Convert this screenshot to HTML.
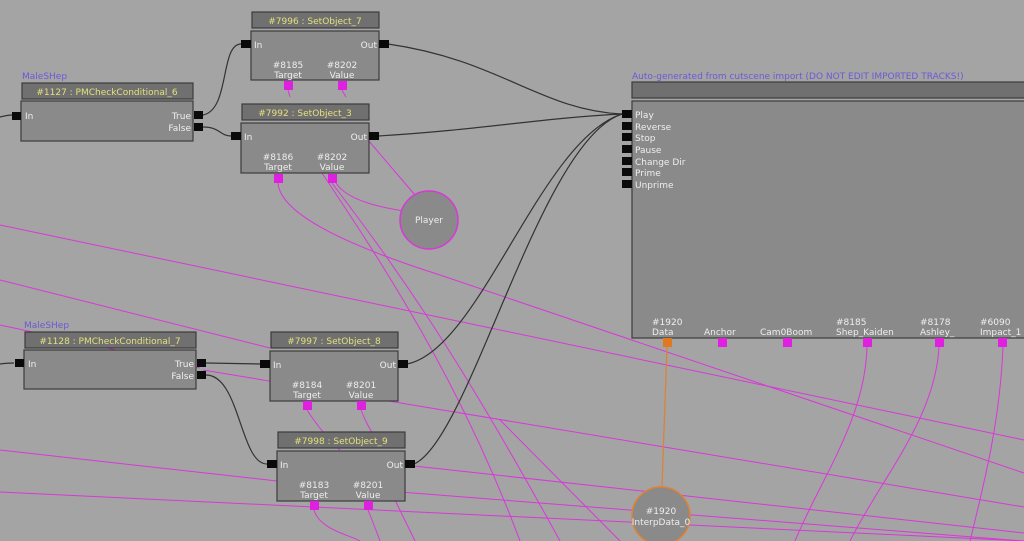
<!DOCTYPE html>
<html><head><meta charset="utf-8"><style>
html,body{margin:0;padding:0;background:#a4a4a4;width:1024px;height:541px;overflow:hidden}
svg{display:block}
text{font-family:"DejaVu Sans","Liberation Sans",sans-serif;font-size:9px}
.t{fill:#e4e07a;text-anchor:middle}
.w{fill:#eeeeee}
.c{text-anchor:middle}
.r{text-anchor:end}
.lbl{fill:#6a5ad8}
.ti{fill:#707070;stroke:#3c3c3c;stroke-width:1.2}
.bd{fill:#8a8a8a;stroke:#3c3c3c;stroke-width:1.2}
.p{fill:#0a0a0a}
.v{fill:#e020e0}
.pk{stroke:#d838d8;fill:none;stroke-width:1}
.bk{stroke:#333;fill:none;stroke-width:1.2}
</style></head><body>
<svg width="1024" height="541" viewBox="0 0 1024 541">
<!-- pink long lines -->
<g class="pk">
<path d="M0,225 L1024,440"/>
<path d="M0,280 L270,348"/>
<path d="M0,325 L200,368"/>
<path d="M0,450 L277,481"/>
<path d="M0,492 L1024,541"/>
<path d="M203,370 L1024,507"/>
<path d="M405,465 L1024,533"/>
<path d="M400,492 L1024,541"/>
<path d="M278,183 C280,210 330,240 440,275 L1024,473"/>
<path d="M332,183 C390,260 450,340 560,541"/>
<path d="M320,170 C380,260 460,380 520,541"/>
<path d="M336,183 C350,205 400,210 410,212"/>
<path d="M368,140 L415,195"/>
<path d="M288,90 L290,97"/>
<path d="M342,90 L346,97"/>
<path d="M867,347 C865,420 820,480 795,541"/>
<path d="M939,347 C935,420 880,480 850,541"/>
<path d="M1003,347 C1000,420 985,480 970,541"/>
<path d="M307,410 C320,430 330,440 340,450"/>
<path d="M361,410 C365,420 370,430 372,432"/>
<path d="M314,510 C320,530 350,535 360,541"/>
<path d="M368,510 C372,520 378,535 380,541"/>
<path d="M395,500 L415,541"/>
<path d="M500,420 L620,541"/>
</g>
<!-- orange -->
<path d="M667,347 L662,486" stroke="#e08030" fill="none" stroke-width="1.2"/>
<!-- black links -->
<g class="bk">
<path d="M0,117 C8,115 10,115 12,115"/>
<path d="M0,364 C8,363 10,363 14,363"/>
<path d="M203,115 C230,110 220,44 241,44"/>
<path d="M203,127 C220,127 220,136 231,136"/>
<path d="M206,363 L260,364"/>
<path d="M206,375 C240,375 240,464 267,464"/>
<path d="M388,44 C500,60 540,110 622,114"/>
<path d="M378,136 C480,130 540,118 622,114"/>
<path d="M407,364 C480,350 540,140 622,114"/>
<path d="M414,464 C470,440 540,140 622,114"/>
</g>
<!-- circles -->
<circle cx="429" cy="220" r="29" fill="#8a8a8a" stroke="#d838d8" stroke-width="1.5"/>
<text x="429" y="223" class="w c">Player</text>
<circle cx="661" cy="516" r="29" fill="#8a8a8a" stroke="#e08030" stroke-width="1.5"/>
<text x="661" y="514" class="w c">#1920</text>
<text x="661" y="525" class="w c">InterpData_0</text>

<!-- Cond 6 -->
<text x="22" y="79" class="lbl">MaleSHep</text>
<rect x="22" y="83" width="171" height="16" class="ti"/><text x="107" y="95" class="t">#1127 : PMCheckConditional_6</text>
<rect x="21" y="101" width="172" height="40" class="bd"/>
<rect x="12" y="112" width="9" height="8" class="p"/><text x="25" y="119" class="w">In</text>
<rect x="194" y="111" width="9" height="8" class="p"/><text x="191" y="119" class="w r">True</text>
<rect x="194" y="123" width="9" height="8" class="p"/><text x="191" y="131" class="w r">False</text>

<!-- Cond 7 -->
<text x="24" y="328" class="lbl">MaleSHep</text>
<rect x="25" y="332" width="171" height="16" class="ti"/><text x="110" y="344" class="t">#1128 : PMCheckConditional_7</text>
<rect x="24" y="350" width="172" height="39" class="bd"/>
<rect x="15" y="359" width="9" height="8" class="p"/><text x="28" y="367" class="w">In</text>
<rect x="197" y="359" width="9" height="8" class="p"/><text x="194" y="367" class="w r">True</text>
<rect x="197" y="371" width="9" height="8" class="p"/><text x="194" y="379" class="w r">False</text>

<!-- SetObject_7 -->
<rect x="252" y="12" width="127" height="16" class="ti"/><text x="315" y="24" class="t">#7996 : SetObject_7</text>
<rect x="251" y="31" width="128" height="49" class="bd"/>
<rect x="241" y="40" width="10" height="8" class="p"/><text x="254" y="48" class="w">In</text>
<rect x="379" y="40" width="10" height="8" class="p"/><text x="377" y="48" class="w r">Out</text>
<text x="288" y="68" class="w c">#8185</text><text x="288" y="78" class="w c">Target</text>
<text x="342" y="68" class="w c">#8202</text><text x="342" y="78" class="w c">Value</text>
<rect x="284" y="81" width="9" height="9" class="v"/><rect x="338" y="81" width="9" height="9" class="v"/>

<!-- SetObject_3 -->
<rect x="242" y="104" width="127" height="16" class="ti"/><text x="305" y="116" class="t">#7992 : SetObject_3</text>
<rect x="241" y="123" width="128" height="50" class="bd"/>
<rect x="231" y="132" width="10" height="8" class="p"/><text x="244" y="140" class="w">In</text>
<rect x="369" y="132" width="10" height="8" class="p"/><text x="367" y="140" class="w r">Out</text>
<text x="278" y="160" class="w c">#8186</text><text x="278" y="170" class="w c">Target</text>
<text x="332" y="160" class="w c">#8202</text><text x="332" y="170" class="w c">Value</text>
<rect x="274" y="174" width="9" height="9" class="v"/><rect x="328" y="174" width="9" height="9" class="v"/>

<!-- SetObject_8 -->
<rect x="271" y="332" width="127" height="16" class="ti"/><text x="334" y="344" class="t">#7997 : SetObject_8</text>
<rect x="270" y="351" width="128" height="50" class="bd"/>
<rect x="260" y="360" width="10" height="8" class="p"/><text x="273" y="368" class="w">In</text>
<rect x="398" y="360" width="10" height="8" class="p"/><text x="396" y="368" class="w r">Out</text>
<text x="307" y="388" class="w c">#8184</text><text x="307" y="398" class="w c">Target</text>
<text x="361" y="388" class="w c">#8201</text><text x="361" y="398" class="w c">Value</text>
<rect x="303" y="401" width="9" height="9" class="v"/><rect x="357" y="401" width="9" height="9" class="v"/>

<!-- SetObject_9 -->
<rect x="278" y="432" width="127" height="16" class="ti"/><text x="341" y="444" class="t">#7998 : SetObject_9</text>
<rect x="277" y="451" width="128" height="50" class="bd"/>
<rect x="267" y="460" width="10" height="8" class="p"/><text x="280" y="468" class="w">In</text>
<rect x="405" y="460" width="10" height="8" class="p"/><text x="403" y="468" class="w r">Out</text>
<text x="314" y="488" class="w c">#8183</text><text x="314" y="498" class="w c">Target</text>
<text x="368" y="488" class="w c">#8201</text><text x="368" y="498" class="w c">Value</text>
<rect x="310" y="501" width="9" height="9" class="v"/><rect x="364" y="501" width="9" height="9" class="v"/>

<!-- Matinee -->
<text x="632" y="79" class="lbl">Auto-generated from cutscene import (DO NOT EDIT IMPORTED TRACKS!)</text>
<rect x="632" y="82" width="400" height="16" class="ti"/>
<rect x="632" y="101" width="400" height="237" class="bd"/>
<g class="w">
<rect x="622" y="110" width="10" height="8" class="p"/><text x="635" y="118">Play</text>
<rect x="622" y="122" width="10" height="8" class="p"/><text x="635" y="130">Reverse</text>
<rect x="622" y="133" width="10" height="8" class="p"/><text x="635" y="141">Stop</text>
<rect x="622" y="145" width="10" height="8" class="p"/><text x="635" y="153">Pause</text>
<rect x="622" y="157" width="10" height="8" class="p"/><text x="635" y="165">Change Dir</text>
<rect x="622" y="168" width="10" height="8" class="p"/><text x="635" y="176">Prime</text>
<rect x="622" y="180" width="10" height="8" class="p"/><text x="635" y="188">Unprime</text>
</g>
<text x="652" y="325" class="w">#1920</text><text x="652" y="335" class="w">Data</text>
<text x="704" y="335" class="w">Anchor</text>
<text x="760" y="335" class="w">Cam0Boom</text>
<text x="836" y="325" class="w">#8185</text><text x="836" y="335" class="w">Shep_Kaiden</text>
<text x="920" y="325" class="w">#8178</text><text x="920" y="335" class="w">Ashley_</text>
<text x="980" y="325" class="w">#6090</text><text x="980" y="335" class="w">Impact_1</text>
<rect x="663" y="338" width="9" height="9" fill="#e07820"/>
<rect x="718" y="338" width="9" height="9" class="v"/>
<rect x="783" y="338" width="9" height="9" class="v"/>
<rect x="863" y="338" width="9" height="9" class="v"/>
<rect x="935" y="338" width="9" height="9" class="v"/>
<rect x="998" y="338" width="9" height="9" class="v"/>
</svg>
</body></html>
